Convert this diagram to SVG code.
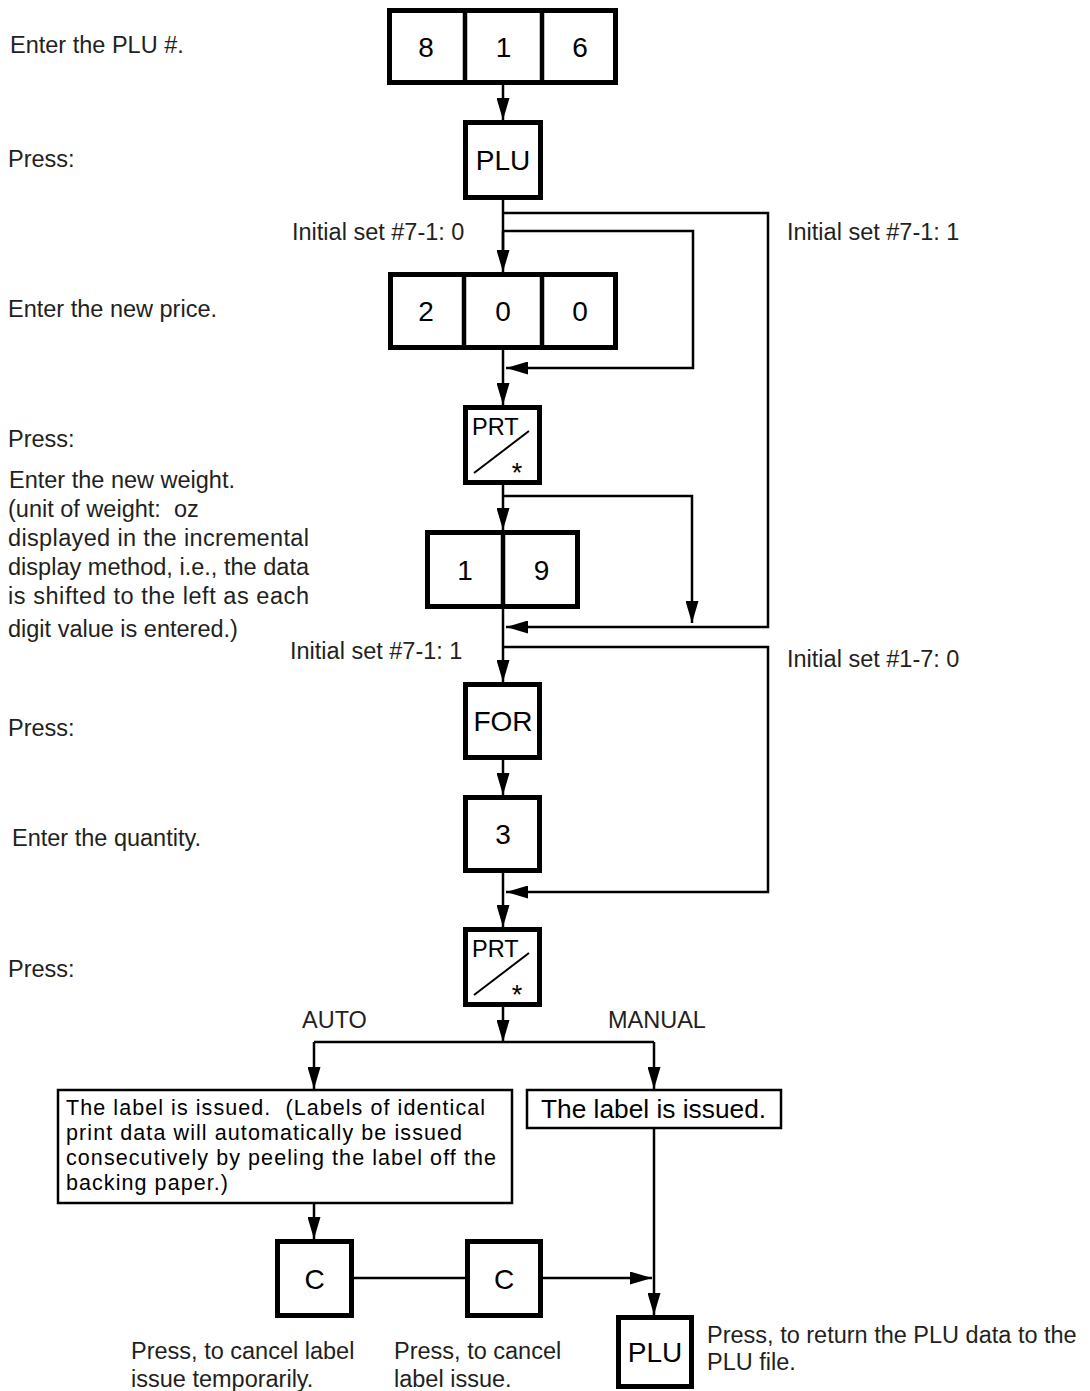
<svg xmlns="http://www.w3.org/2000/svg" width="1090" height="1391" viewBox="0 0 1090 1391">
<style>
.lbl{font-family:"Liberation Sans",Arial,Helvetica,sans-serif;font-size:23.5px;fill:#231f20}
.bt{font-family:"Liberation Sans",Arial,Helvetica,sans-serif;font-size:21.5px;fill:#000}
.key{fill:#fff;stroke:#000;stroke-width:5}
.div{stroke:#000;stroke-width:4.5}
.kt{font-family:"Liberation Sans",Arial,Helvetica,sans-serif;font-size:28px;fill:#000;text-anchor:middle}
.prt{font-family:"Liberation Sans",Arial,Helvetica,sans-serif;font-size:23.5px;fill:#000}
.ast{font-family:"Liberation Sans",Arial,Helvetica,sans-serif;font-size:27px;fill:#000;text-anchor:middle}
.box{fill:#fff;stroke:#000;stroke-width:2.5}
.con{fill:none;stroke:#000;stroke-width:2.5}
.arr{fill:none;stroke:#000;stroke-width:2.5;marker-end:url(#ah)}
</style>
<defs>
<marker id="ah" markerUnits="userSpaceOnUse" markerWidth="22" markerHeight="13" refX="22" refY="6.5" orient="auto">
<path d="M0,0 L22,6.5 L0,13 z" fill="#000"/>
</marker>
</defs>
<rect width="1090" height="1391" fill="#fff"/>

<g id="labels">
<text class="lbl" x="10" y="53">Enter the PLU #.</text>
<text class="lbl" x="8" y="167">Press:</text>
<text class="lbl" x="292" y="240">Initial set #7-1: 0</text>
<text class="lbl" x="787" y="240">Initial set #7-1: 1</text>
<text class="lbl" x="8" y="317">Enter the new price.</text>
<text class="lbl" x="8" y="447">Press:</text>
<text class="lbl" x="9" y="488">Enter the new weight.</text>
<text class="lbl" x="8" y="517" xml:space="preserve">(unit of weight:  oz</text>
<text class="lbl" x="8" y="546" textLength="301" lengthAdjust="spacing">displayed in the incremental</text>
<text class="lbl" x="8" y="575" textLength="301" lengthAdjust="spacing">display method, i.e., the data</text>
<text class="lbl" x="8" y="604" textLength="301" lengthAdjust="spacing">is shifted to the left as each</text>
<text class="lbl" x="8" y="637">digit value is entered.)</text>
<text class="lbl" x="290" y="659">Initial set #7-1: 1</text>
<text class="lbl" x="787" y="667">Initial set #1-7: 0</text>
<text class="lbl" x="8" y="736">Press:</text>
<text class="lbl" x="12" y="846">Enter the quantity.</text>
<text class="lbl" x="8" y="977">Press:</text>
<text class="lbl" x="302" y="1028">AUTO</text>
<text class="lbl" x="608" y="1028">MANUAL</text>
<text class="lbl" x="131" y="1359">Press, to cancel label</text>
<text class="lbl" x="131" y="1387">issue temporarily.</text>
<text class="lbl" x="394" y="1359">Press, to cancel</text>
<text class="lbl" x="394" y="1387">label issue.</text>
<text class="lbl" x="707" y="1343">Press, to return the PLU data to the</text>
<text class="lbl" x="707" y="1370">PLU file.</text>
</g>

<g id="connectors">
<path class="arr" d="M503,85 V120"/>
<path class="con" d="M503,200 V250"/>
<path class="arr" d="M503,231 V272"/>
<path class="arr" d="M503,213 H768 V627 H506"/>
<path class="arr" d="M503,231 H693 V368 H506"/>
<path class="arr" d="M503,350 V405"/>
<path class="arr" d="M503,485 V530"/>
<path class="arr" d="M503,496 H692 V623"/>
<path class="arr" d="M503,609 V682"/>
<path class="arr" d="M503,647 H768 V892 H506"/>
<path class="arr" d="M503,760 V795"/>
<path class="arr" d="M503,873 V927"/>
<path class="arr" d="M503,1007 V1042"/>
<path class="con" d="M314,1042 H654"/>
<path class="arr" d="M314,1042 V1089"/>
<path class="arr" d="M654,1042 V1089"/>
<path class="arr" d="M314,1203 V1239"/>
<path class="con" d="M354,1278 H465"/>
<path class="arr" d="M543,1278 H652"/>
<path class="arr" d="M654,1128 V1315"/>
</g>

<g id="key-816">
<rect class="key" x="389.5" y="10.5" width="226" height="72"/>
<line class="div" x1="465" y1="10" x2="465" y2="83"/>
<line class="div" x1="542" y1="10" x2="542" y2="83"/>
<text class="kt" x="426" y="56.5">8</text>
<text class="kt" x="503.5" y="56.5">1</text>
<text class="kt" x="580" y="56.5">6</text>
</g>

<g id="key-plu">
<rect class="key" x="465.5" y="122.5" width="75" height="75"/>
<text class="kt" x="503" y="170">PLU</text>
</g>

<g id="key-200">
<rect class="key" x="390.5" y="274.5" width="225" height="73"/>
<line class="div" x1="464" y1="274" x2="464" y2="348"/>
<line class="div" x1="542" y1="274" x2="542" y2="348"/>
<text class="kt" x="426" y="321">2</text>
<text class="kt" x="503" y="321">0</text>
<text class="kt" x="580" y="321">0</text>
</g>

<g id="key-prt1">
<rect class="key" x="465.5" y="407.5" width="74" height="75"/>
<text class="prt" x="472" y="435">PRT</text>
<line x1="474" y1="473" x2="529" y2="431" stroke="#000" stroke-width="2"/>
<text class="ast" x="517" y="482">*</text>
</g>

<g id="key-19">
<rect class="key" x="427.5" y="532.5" width="150" height="74"/>
<line class="div" x1="503" y1="532" x2="503" y2="607"/>
<text class="kt" x="465" y="579.5">1</text>
<text class="kt" x="541.5" y="579.5">9</text>
</g>

<g id="key-for">
<rect class="key" x="465.5" y="684.5" width="74" height="73"/>
<text class="kt" x="503" y="731">FOR</text>
</g>

<g id="key-3">
<rect class="key" x="465.5" y="797.5" width="74" height="73"/>
<text class="kt" x="503" y="844">3</text>
</g>

<g id="key-prt2">
<rect class="key" x="465.5" y="929.5" width="74" height="75"/>
<text class="prt" x="472" y="957">PRT</text>
<line x1="474" y1="995" x2="529" y2="953" stroke="#000" stroke-width="2"/>
<text class="ast" x="517" y="1004">*</text>
</g>

<g id="box-auto">
<rect class="box" x="58" y="1090" width="454" height="113"/>
<text class="bt" x="66" y="1115" xml:space="preserve" textLength="419" lengthAdjust="spacing">The label is issued.  (Labels of identical</text>
<text class="bt" x="66" y="1140" textLength="396" lengthAdjust="spacing">print data will automatically be issued</text>
<text class="bt" x="66" y="1165" textLength="430" lengthAdjust="spacing">consecutively by peeling the label off the</text>
<text class="bt" x="66" y="1190" textLength="162" lengthAdjust="spacing">backing paper.)</text>
</g>

<g id="box-manual">
<rect class="box" x="527" y="1090" width="254" height="38"/>
<text class="lbl" x="541" y="1118" style="font-size:26.3px;fill:#000">The label is issued.</text>
</g>

<g id="key-c1">
<rect class="key" x="277.5" y="1241.5" width="74" height="74"/>
<text class="kt" x="314.5" y="1288.5">C</text>
</g>

<g id="key-c2">
<rect class="key" x="467.5" y="1241.5" width="73" height="74"/>
<text class="kt" x="504" y="1288.5">C</text>
</g>

<g id="key-plu2">
<rect class="key" x="618.5" y="1317.5" width="73" height="69"/>
<text class="kt" x="655" y="1362">PLU</text>
</g>
</svg>
